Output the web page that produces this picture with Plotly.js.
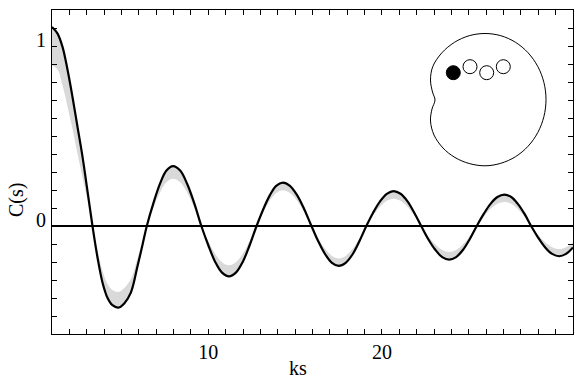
<!DOCTYPE html>
<html>
<head>
<meta charset="utf-8">
<script src="https://cdn.plot.ly/plotly-3.0.1.min.js"></script>
<style>html,body{margin:0;padding:0;background:#fff}#chart{width:574px;height:379px}</style>
</head>
<body>
<div id="chart"></div>
<script>
// ks positions
const ks = [1.0, 1.32, 1.61, 1.90, 2.18, 2.47, 2.76, 3.05, 3.33, 3.62, 3.91, 4.20, 4.48, 4.83, 5.16, 5.54, 5.92, 6.21, 6.46,
  6.84, 7.22, 7.59, 7.97, 8.38, 8.78, 9.19, 9.6,
  10.0, 10.39, 10.79, 11.19, 11.59, 11.99, 12.38, 12.78,
  13.16, 13.54, 13.91, 14.29, 14.70, 15.12, 15.53, 15.94,
  16.33, 16.73, 17.12, 17.51, 17.91, 18.31, 18.70, 19.1,
  19.49, 19.89, 20.28, 20.67, 21.07, 21.47, 21.86, 22.26,
  22.66, 23.07, 23.47, 23.87, 24.27, 24.67, 25.06, 25.46,
  25.86, 26.25, 26.65, 27.05, 27.44, 27.82, 28.21, 28.59,
  28.99, 29.4, 29.8, 30.2, 30.6, 31.0];
// black curve C(s)
const cBlack = [1.106, 1.069, 0.994, 0.865, 0.717, 0.55, 0.383, 0.19, 0.0, -0.175, -0.315, -0.40, -0.44, -0.453, -0.43, -0.37, -0.225, -0.105, 0.0,
  0.127, 0.235, 0.308, 0.333, 0.308, 0.235, 0.127, 0.0,
  -0.107, -0.198, -0.259, -0.28, -0.259, -0.198, -0.107, 0.0,
  0.092, 0.170, 0.223, 0.241, 0.223, 0.170, 0.092, 0.0,
  -0.085, -0.157, -0.205, -0.222, -0.205, -0.157, -0.085, 0.0,
  0.074, 0.137, 0.179, 0.194, 0.179, 0.137, 0.074, 0.0,
  -0.072, -0.132, -0.173, -0.187, -0.173, -0.132, -0.072, 0.0,
  0.067, 0.123, 0.161, 0.174, 0.161, 0.123, 0.067, 0.0,
  -0.064, -0.119, -0.155, -0.168, -0.155, -0.119];
// inner edge of the grey band
const cGrey = [0.893, 0.87, 0.78, 0.66, 0.54, 0.40, 0.27, 0.14, 0.0, -0.135, -0.25, -0.322, -0.356, -0.367, -0.345, -0.295, -0.18, -0.085, 0.0,
  0.101, 0.186, 0.243, 0.263, 0.243, 0.186, 0.101, 0.0,
  -0.083, -0.154, -0.201, -0.218, -0.201, -0.154, -0.083, 0.0,
  0.076, 0.140, 0.183, 0.198, 0.183, 0.140, 0.076, 0.0,
  -0.069, -0.127, -0.166, -0.18, -0.166, -0.127, -0.069, 0.0,
  0.058, 0.107, 0.140, 0.152, 0.140, 0.107, 0.058, 0.0,
  -0.055, -0.102, -0.133, -0.144, -0.133, -0.102, -0.055, 0.0,
  0.051, 0.094, 0.123, 0.133, 0.123, 0.094, 0.051, 0.0,
  -0.049, -0.090, -0.118, -0.128, -0.118, -0.090];
// tick labels
const xTickVals = [10, 20];
const xTickText = ['10', '20'];
const yTickVals = [0, 1];
const yTickText = ['0', '1'];
// inset schematic (picture pixel coordinates)
const insetX = [485, 469.2, 454.5, 441.9, 432.8, 430.5, 432.5, 435, 432, 430.5, 434, 443, 455, 469.2, 485,
  500.8, 515.5, 528.1, 537.8, 543.9, 546, 543.9, 537.8, 528.1, 515.5, 500.8, 485];
const insetY = [33.5, 35.7, 42.3, 52.8, 66.5, 80, 92, 100, 109, 121, 135, 148, 157.5, 163.5, 165.8,
  163.3, 156.7, 146.2, 132.5, 116.6, 99.5, 82.4, 66.5, 52.8, 42.3, 35.7, 33.5];
const ballX = [453.3, 470, 486.7, 503.3];
const ballY = [72.7, 66.7, 72.7, 66.7];
const ballSym = ['circle', 'circle-open', 'circle-open', 'circle-open'];

const FONT = 'Liberation Serif, Times New Roman, serif';

const traces = [
  {x: ks, y: cGrey, mode: 'lines', line: {width: 0, shape: 'spline', color: '#d9d9d9'}, hoverinfo: 'skip', showlegend: false},
  {x: ks, y: cBlack, mode: 'lines', fill: 'tonexty', fillcolor: '#d9d9d9',
   line: {width: 2.2, shape: 'spline', color: '#000'}, showlegend: false},
  {x: insetX, y: insetY, xaxis: 'x2', yaxis: 'y2', mode: 'lines',
   line: {width: 1, shape: 'spline', smoothing: 1, color: '#000'}, showlegend: false},
  {x: ballX, y: ballY, xaxis: 'x2', yaxis: 'y2', mode: 'markers',
   marker: {symbol: ballSym, size: 14, color: '#000', line: {width: 1, color: '#000'}}, showlegend: false}
];

const layout = {
  width: 574, height: 379,
  margin: {l: 52, r: 1, t: 10, b: 45, pad: 0},
  paper_bgcolor: '#fff', plot_bgcolor: '#fff',
  font: {family: FONT, size: 20, color: '#000'},
  xaxis: {
    range: [1, 31], showline: true, linecolor: '#000', linewidth: 1, mirror: 'ticks',
    ticks: 'inside', ticklen: 5, tickwidth: 1, tickcolor: '#000',
    tickmode: 'array', tickvals: xTickVals, ticktext: xTickText,
    tickfont: {family: FONT, size: 20, color: '#000'}, ticklabelstandoff: 0,
    minor: {dtick: 1, tick0: 0, ticks: 'inside', ticklen: 5, tickwidth: 1, tickcolor: '#000', showgrid: false},
    showgrid: false, zeroline: false
  },
  yaxis: {
    range: [-0.6, 1.2], showline: true, linecolor: '#000', linewidth: 1, mirror: 'ticks',
    ticks: 'inside', ticklen: 5, tickwidth: 1, tickcolor: '#000',
    tickmode: 'array', tickvals: yTickVals, showticklabels: false,
    minor: {dtick: 0.1, tick0: 0, ticks: 'inside', ticklen: 5, tickwidth: 1, tickcolor: '#000', showgrid: false},
    showgrid: false, zeroline: true, zerolinecolor: '#000', zerolinewidth: 1.2
  },
  xaxis2: {overlaying: 'x', anchor: 'y2', range: [52, 573], visible: false, fixedrange: true},
  yaxis2: {overlaying: 'y', anchor: 'x2', range: [334, 10], visible: false, fixedrange: true},
  annotations: [
    {text: yTickText[0], xref: 'paper', x: 0, xanchor: 'right', xshift: -4, yref: 'y', y: yTickVals[0], yanchor: 'middle', yshift: 6, showarrow: false, font: {family: FONT, size: 20, color: '#000'}},
    {text: yTickText[1], xref: 'paper', x: 0, xanchor: 'right', xshift: -4, yref: 'y', y: yTickVals[1], yanchor: 'middle', yshift: 6, showarrow: false, font: {family: FONT, size: 20, color: '#000'}},
    {text: 'ks', xref: 'paper', x: 0.472, xanchor: 'center', yref: 'paper', y: -0.105, yanchor: 'middle', showarrow: false, font: {family: FONT, size: 20, color: '#000'}},
    {text: 'C(s)', textangle: -90, xref: 'paper', x: -0.0672, xanchor: 'center', yref: 'paper', y: 0.4136, yanchor: 'middle', showarrow: false, font: {family: FONT, size: 20, color: '#000'}}
  ]
};

Plotly.newPlot('chart', traces, layout, {displayModeBar: false, staticPlot: true});
</script>
</body>
</html>
